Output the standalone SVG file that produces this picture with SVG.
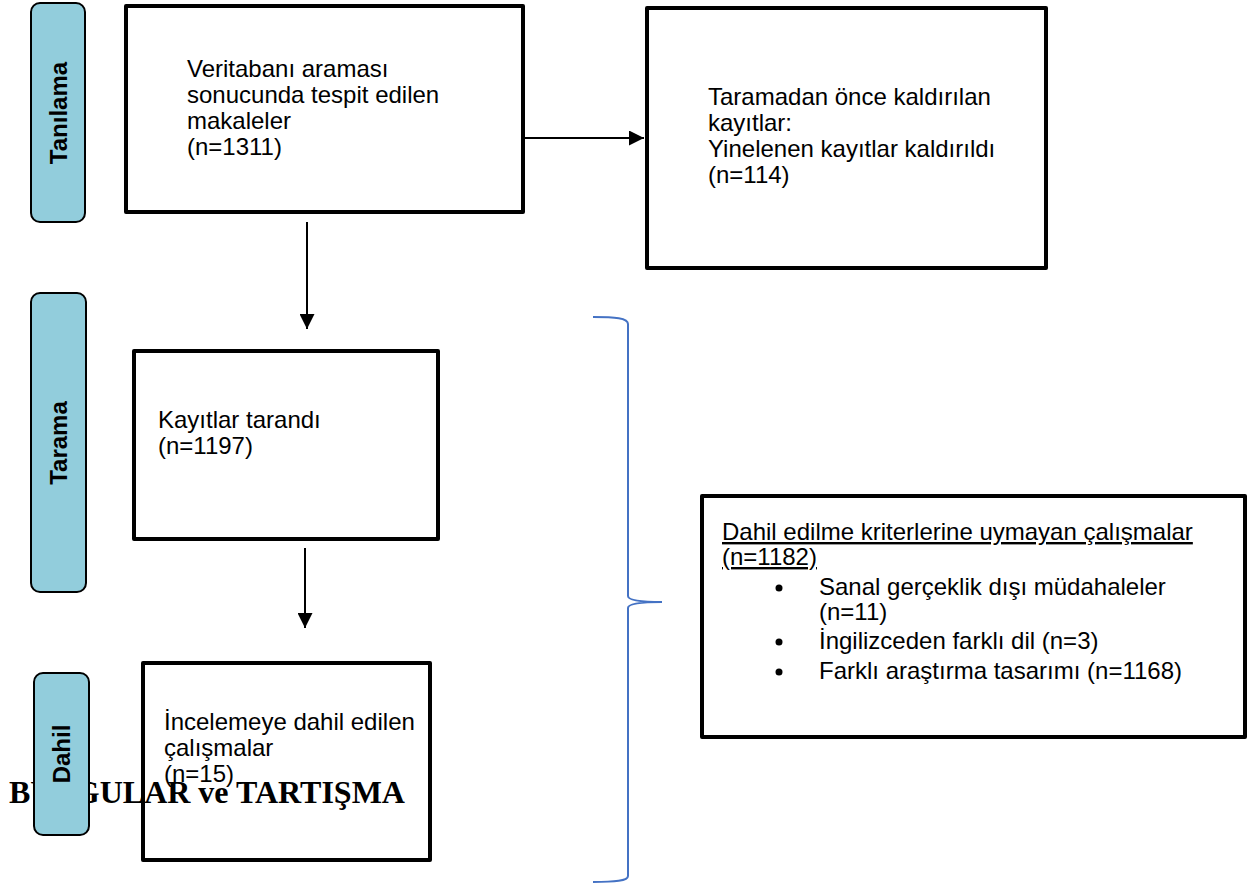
<svg xmlns="http://www.w3.org/2000/svg" width="1249" height="885" viewBox="0 0 1249 885">
<style>
.box{fill:#fff;stroke:#000;stroke-width:4;stroke-linejoin:round}
.pill{fill:#92CDDC;stroke:#000;stroke-width:2}
.t{font-family:"Liberation Sans",Arial,sans-serif;font-size:24px;fill:#000}
.pt{font-family:"Liberation Sans",Arial,sans-serif;font-size:24px;font-weight:bold;fill:#000;text-anchor:middle}
.h{font-family:"Liberation Serif","Times New Roman",serif;font-size:32px;font-weight:bold;fill:#000}
.c{stroke:#000;stroke-width:2;fill:none}
</style>
<defs>
<marker id="ah" viewBox="0 0 10 10" refX="10" refY="5" markerWidth="15" markerHeight="15" markerUnits="userSpaceOnUse" orient="auto">
<path d="M0,0 L10,5 L0,10 z" fill="#000"/>
</marker>
</defs>
<rect width="1249" height="885" fill="#fff"/>

<g id="pill-tanilama">
<rect class="pill" x="31" y="3" width="54" height="219" rx="9"/>
<text class="pt" transform="translate(67,113) rotate(-90)">Tanılama</text>
</g>
<g id="pill-tarama">
<rect class="pill" x="31" y="293" width="55" height="299" rx="9"/>
<text class="pt" transform="translate(67,443) rotate(-90)">Tarama</text>
</g>

<g id="box-veritabani">
<rect class="box" x="126" y="6" width="397" height="206"/>
<text class="t"><tspan x="187" y="77">Veritabanı araması</tspan><tspan x="187" y="103">sonucunda tespit edilen</tspan><tspan x="187" y="129">makaleler</tspan><tspan x="187" y="155">(n=1311)</tspan></text>
</g>
<g id="box-kaldirilan">
<rect class="box" x="647" y="8" width="399" height="260"/>
<text class="t"><tspan x="708" y="105">Taramadan önce kaldırılan</tspan><tspan x="708" y="131">kayıtlar:</tspan><tspan x="708" y="157">Yinelenen kayıtlar kaldırıldı</tspan><tspan x="708" y="183">(n=114)</tspan></text>
</g>
<g id="box-tarandi">
<rect class="box" x="134" y="351" width="304" height="188"/>
<text class="t"><tspan x="158" y="428">Kayıtlar tarandı</tspan><tspan x="158" y="454">(n=1197)</tspan></text>
</g>
<g id="box-dahil">
<rect class="box" x="143" y="663" width="287" height="197"/>
<text class="t"><tspan x="164" y="730">İncelemeye dahil edilen</tspan><tspan x="164" y="756">çalışmalar</tspan><tspan x="164" y="782">(n=15)</tspan></text>
</g>
<g id="box-kriter">
<rect class="box" x="702" y="496" width="543" height="241"/>
<text class="t" text-decoration="underline"><tspan x="722" y="540">Dahil edilme kriterlerine uymayan çalışmalar</tspan><tspan x="722" y="565">(n=1182)</tspan></text>
<g fill="#000"><circle cx="779" cy="588" r="3.5"/><circle cx="779" cy="642" r="3.5"/><circle cx="779" cy="672" r="3.5"/></g>
<text class="t"><tspan x="819" y="595">Sanal gerçeklik dışı müdahaleler</tspan><tspan x="819" y="620">(n=11)</tspan><tspan x="819" y="649">İngilizceden farklı dil (n=3)</tspan><tspan x="819" y="679">Farklı araştırma tasarımı (n=1168)</tspan></text>
</g>

<g id="connectors">
<line class="c" x1="523" y1="138" x2="644" y2="138" marker-end="url(#ah)"/>
<line class="c" x1="307" y1="222" x2="307" y2="329" marker-end="url(#ah)"/>
<line class="c" x1="305" y1="548" x2="305" y2="628" marker-end="url(#ah)"/>
<path d="M593,317 C615,317 628,318 628,324 L628,596 C628,600 640,602 662,602 C640,602 628,604 628,608 L628,876 C628,881 615,882 593,882" fill="none" stroke="#4472C4" stroke-width="2"/>
</g>

<text class="h" x="9" y="803">BULGULAR ve TARTIŞMA</text>

<g id="pill-dahil">
<rect class="pill" x="34" y="673" width="55" height="162" rx="9"/>
<text class="pt" transform="translate(70,754) rotate(-90)">Dahil</text>
</g>
</svg>
